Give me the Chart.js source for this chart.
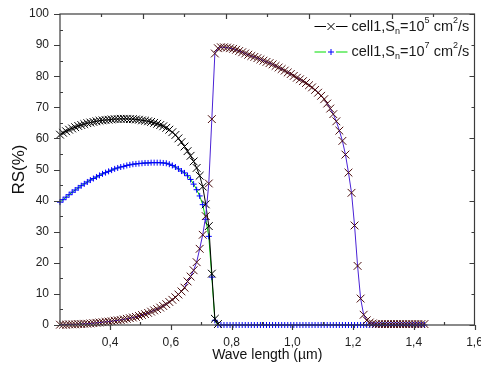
<!DOCTYPE html>
<html>
<head>
<meta charset="utf-8">
<script src="https://cdn.jsdelivr.net/npm/chart.js@4/dist/chart.umd.min.js"></script>
<style>
  html, body { margin: 0; padding: 0; background: #fff; }
  canvas { display: block; }
</style>
</head>
<body>
<canvas id="rs" width="481" height="372"></canvas>
<script>
// wavelength grid (µm)
const wavelength = [
  0.235, 0.245, 0.255, 0.265, 0.275, 0.285, 0.295, 0.305, 0.315, 0.325,
  0.335, 0.345, 0.355, 0.365, 0.375, 0.385, 0.395, 0.405, 0.415, 0.425,
  0.435, 0.445, 0.455, 0.465, 0.475, 0.485, 0.495, 0.505, 0.515, 0.525,
  0.535, 0.545, 0.555, 0.565, 0.575, 0.585, 0.595, 0.605, 0.615, 0.625,
  0.635, 0.645, 0.655, 0.665, 0.675, 0.685, 0.695, 0.705, 0.715, 0.725,
  0.735, 0.745, 0.755, 0.765, 0.775, 0.785, 0.795, 0.805, 0.815, 0.825,
  0.835, 0.845, 0.855, 0.865, 0.875, 0.885, 0.895, 0.905, 0.915, 0.925,
  0.935, 0.945, 0.955, 0.965, 0.975, 0.985, 0.995, 1.005, 1.015, 1.025,
  1.035, 1.045, 1.055, 1.065, 1.075, 1.085, 1.095, 1.105, 1.115, 1.125,
  1.135, 1.145, 1.155, 1.165, 1.175, 1.185, 1.195, 1.205, 1.215, 1.225,
  1.235, 1.245, 1.255, 1.265, 1.275, 1.285, 1.295, 1.305, 1.315, 1.325,
  1.335, 1.345, 1.355, 1.365, 1.375, 1.385, 1.395, 1.405, 1.415, 1.425,
  1.435
];

// cell1, Sn=1e5 (black x), only up to 0.755 µm
const rsSn5 = [
  61.2, 61.8, 62.3, 62.8, 63.2, 63.6, 64.0, 64.3, 64.6, 64.9,
  65.1, 65.3, 65.5, 65.7, 65.8, 65.9, 66.0, 66.1, 66.2, 66.2,
  66.3, 66.3, 66.3, 66.2, 66.2, 66.1, 66.0, 65.8, 65.7, 65.5,
  65.3, 65.0, 64.7, 64.3, 63.9, 63.4, 62.8, 62.0, 61.1, 60.0,
  58.8, 57.4, 55.9, 54.4, 52.6, 50.5, 48.0, 44.5, 38.8, 31.8,
  16.5, 2.0, 0.3
];

// cell1, Sn=1e7 (blue +)
const rsSn7 = [
  39.5, 40.3, 41.1, 41.9, 42.7, 43.4, 44.1, 44.8, 45.4, 46.0,
  46.6, 47.1, 47.6, 48.1, 48.6, 49.0, 49.4, 49.8, 50.2, 50.5,
  50.8, 51.0, 51.3, 51.5, 51.7, 51.8, 51.9, 52.0, 52.1, 52.1,
  52.2, 52.2, 52.2, 52.2, 52.1, 52.0, 51.7, 51.3, 50.8, 50.2,
  49.5, 48.9, 48.0, 46.8, 45.3, 43.5, 41.5, 38.7, 34.0, 28.5,
  15.4, 1.5, 0, 0, 0, 0, 0, 0, 0, 0,
  0, 0, 0, 0, 0, 0, 0, 0, 0, 0,
  0, 0, 0, 0, 0, 0, 0, 0, 0, 0,
  0, 0, 0, 0, 0, 0, 0, 0, 0, 0,
  0, 0, 0, 0, 0, 0, 0, 0, 0, 0,
  0, 0, 0, 0, 0, 0, 0, 0, 0, 0,
  0, 0, 0, 0, 0, 0, 0, 0, 0, 0,
  0
];

// second x-curve (dark red x, blue line)
const rsWindow = [
  0.1, 0.1, 0.1, 0.2, 0.2, 0.2, 0.3, 0.3, 0.4, 0.4,
  0.5, 0.6, 0.7, 0.8, 0.9, 1.0, 1.1, 1.2, 1.4, 1.5,
  1.6, 1.8, 2.0, 2.2, 2.4, 2.6, 2.9, 3.2, 3.5, 3.9,
  4.3, 4.7, 5.1, 5.6, 6.1, 6.7, 7.4, 8.1, 8.9, 9.8,
  10.8, 12.0, 14.0, 15.6, 17.6, 20.2, 24.5, 29.0, 35.0, 45.5,
  66.2, 87.3, 89.0, 89.3, 89.3, 89.2, 89.0, 88.8, 88.5, 88.1,
  87.7, 87.3, 86.9, 86.5, 86.2, 85.8, 85.4, 85.0, 84.6, 84.2,
  83.8, 83.3, 82.8, 82.3, 81.8, 81.2, 80.7, 80.1, 79.5, 79.0,
  78.4, 77.8, 77.1, 76.4, 75.6, 74.7, 73.7, 72.6, 71.2, 69.6,
  67.8, 65.5, 62.5, 59.2, 54.8, 49.0, 42.5, 32.0, 19.0, 8.5,
  3.3, 1.5, 0.8, 0.5, 0.3, 0.3, 0.3, 0.3, 0.3, 0.3,
  0.3, 0.3, 0.3, 0.3, 0.3, 0.3, 0.3, 0.3, 0.3, 0.3,
  0.3
];

// axis ticks
const xMajorTicks = [0.4, 0.6, 0.8, 1.0, 1.2, 1.4, 1.6];
const xMinorTicks = [0.3, 0.5, 0.7, 0.9, 1.1, 1.3, 1.5];
const yMajorTicks = [0, 10, 20, 30, 40, 50, 60, 70, 80, 90, 100];
const yMinorTicks = [5, 15, 25, 35, 45, 55, 65, 75, 85, 95];
const topTicks = [1, 2, 3, 4, 5, 6, 7, 8, 9];

const FONT = '"Liberation Sans", Arial, sans-serif';

function pts(ys) {
  return ys.map((y, i) => ({ x: wavelength[i], y: y }));
}

// axis frame with Origin-style ticks
const framePlugin = {
  id: 'frame',
  afterDatasetsDraw(chart) {
    const { ctx, chartArea: a, scales } = chart;
    const x = scales.x, y = scales.y, x2 = scales.x2;
    ctx.save();
    ctx.strokeStyle = '#3c3c3c';
    ctx.lineWidth = 1.2;
    ctx.strokeRect(a.left, a.top, a.right - a.left, a.bottom - a.top);
    ctx.beginPath();
    yMajorTicks.forEach(v => {
      const py = Math.round(y.getPixelForValue(v)) + 0.5;
      ctx.moveTo(a.left - 6, py); ctx.lineTo(a.left, py);
      const len = (v % 20 === 0) ? 5 : 3;
      ctx.moveTo(a.right - len, py); ctx.lineTo(a.right, py);
    });
    yMinorTicks.forEach(v => {
      const py = Math.round(y.getPixelForValue(v)) + 0.5;
      ctx.moveTo(a.left, py); ctx.lineTo(a.left + 3, py);
    });
    xMajorTicks.forEach(v => {
      const px = Math.round(x.getPixelForValue(v)) + 0.5;
      ctx.moveTo(px, a.bottom); ctx.lineTo(px, a.bottom + 5);
    });
    xMinorTicks.forEach(v => {
      const px = Math.round(x.getPixelForValue(v)) + 0.5;
      ctx.moveTo(px, a.bottom); ctx.lineTo(px, a.bottom - 3);
    });
    topTicks.forEach(v => {
      const px = Math.round(x2.getPixelForValue(v)) + 0.5;
      ctx.moveTo(px, a.top); ctx.lineTo(px, a.top + (v % 2 === 0 ? 5 : 3));
    });
    ctx.stroke();
    ctx.restore();
  }
};

// legend with sub/superscripts
const legendItems = [
  { label: [['cell1,S'], ['n', 'sub'], ['=10'], ['5', 'sup'], [' cm'], ['2', 'sup'], ['/s']], line: '#000000', mark: '#000000', style: 'x' },
  { label: [['cell1,S'], ['n', 'sub'], ['=10'], ['7', 'sup'], [' cm'], ['2', 'sup'], ['/s']], line: '#00dd00', mark: '#0000ff', style: '+' }
];

const legendPlugin = {
  id: 'richLegend',
  afterDraw(chart) {
    const { ctx, chartArea: a } = chart;
    ctx.save();
    legendItems.forEach((item, i) => {
      const cy = a.top + 12.5 + i * 25.5;
      const x0 = a.right - 160, x1 = a.right - 127, mx = (x0 + x1) / 2;
      ctx.strokeStyle = item.line;
      ctx.lineWidth = 1;
      ctx.beginPath();
      ctx.moveTo(x0, cy); ctx.lineTo(mx - 5, cy);
      ctx.moveTo(mx + 5, cy); ctx.lineTo(x1, cy);
      ctx.stroke();
      ctx.strokeStyle = item.mark;
      ctx.beginPath();
      if (item.style === 'x') {
        ctx.moveTo(mx - 3.5, cy - 3.5); ctx.lineTo(mx + 3.5, cy + 3.5);
        ctx.moveTo(mx - 3.5, cy + 3.5); ctx.lineTo(mx + 3.5, cy - 3.5);
      } else {
        ctx.moveTo(mx - 3, cy); ctx.lineTo(mx + 3, cy);
        ctx.moveTo(mx, cy - 3); ctx.lineTo(mx, cy + 3);
      }
      ctx.stroke();
      let tx = a.right - 123;
      ctx.fillStyle = '#1a1a1a';
      ctx.textBaseline = 'middle';
      item.label.forEach(([t, kind]) => {
        let dy = 0;
        if (kind) {
          ctx.font = '9px ' + FONT;
          dy = kind === 'sub' ? 5 : -6;
        } else {
          ctx.font = '14.5px ' + FONT;
        }
        ctx.fillText(t, tx, cy + dy);
        tx += ctx.measureText(t).width;
      });
    });
    ctx.restore();
  }
};

new Chart(document.getElementById('rs'), {
  type: 'line',
  data: {
    datasets: [{
      label: 'window',
      data: pts(rsWindow),
      borderColor: '#4a22d6',
      borderWidth: 1,
      pointStyle: 'crossRot',
      pointRadius: 5.5,
      pointBorderColor: '#4a0c0c',
      pointBorderWidth: 1,
      clip: false,
      order: 0
    }, {
      label: 'cell1,Sn=10^5',
      data: pts(rsSn5),
      borderColor: '#000000',
      borderWidth: 1,
      pointStyle: 'crossRot',
      pointRadius: 5.5,
      pointBorderColor: '#000000',
      pointBorderWidth: 1,
      clip: false,
      order: 1
    }, {
      label: 'cell1,Sn=10^7',
      data: pts(rsSn7),
      borderColor: '#00cc00',
      borderWidth: 1,
      pointStyle: 'cross',
      pointRadius: 3,
      pointBorderColor: '#0000ff',
      pointBorderWidth: 1,
      clip: false,
      order: 2
    }]
  },
  options: {
    responsive: false,
    animation: false,
    devicePixelRatio: 1,
    events: [],
    layout: { padding: { top: 14, right: 6, left: 0, bottom: 0 } },
    plugins: {
      legend: { display: false },
      tooltip: { enabled: false }
    },
    scales: {
      x: {
        type: 'linear',
        position: 'bottom',
        min: 0.235,
        max: 1.6,
        grid: { display: false, drawTicks: false },
        border: { display: false },
        afterBuildTicks: s => { s.ticks = xMajorTicks.map(v => ({ value: v })); },
        afterFit: s => { s.height = 47; s.paddingLeft = 0; s.paddingRight = 0; },
        ticks: {
          padding: 10,
          maxRotation: 0,
          color: '#222',
          font: { family: FONT, size: 12 },
          callback: v => v.toFixed(1).replace('.', ',')
        },
        title: {
          display: true,
          text: 'Wave length (µm)',
          color: '#111',
          font: { family: FONT, size: 14 },
          padding: { top: 0, bottom: 8 }
        }
      },
      x2: {
        type: 'linear',
        position: 'top',
        min: 0,
        max: 10,
        grid: { display: false, drawTicks: false },
        border: { display: false },
        ticks: { display: false },
        afterFit: s => { s.height = 0; s.paddingLeft = 0; s.paddingRight = 0; }
      },
      y: {
        min: 0,
        max: 100,
        grid: { display: false, drawTicks: false },
        border: { display: false },
        afterBuildTicks: s => { s.ticks = yMajorTicks.map(v => ({ value: v })); },
        afterFit: s => { s.width = 60; s.paddingTop = 0; s.paddingBottom = 0; },
        ticks: {
          padding: 11,
          color: '#222',
          font: { family: FONT, size: 12 }
        },
        title: {
          display: true,
          text: 'RS(%)',
          color: '#111',
          font: { family: FONT, size: 17 },
          padding: { top: 9, bottom: 0 }
        }
      }
    }
  },
  plugins: [framePlugin, legendPlugin]
});
</script>
</body>
</html>
